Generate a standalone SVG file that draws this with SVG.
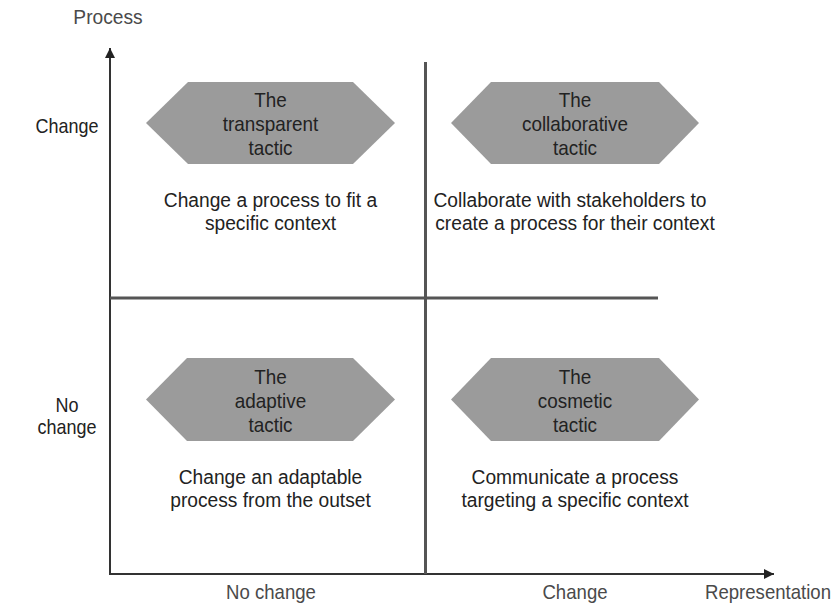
<svg xmlns="http://www.w3.org/2000/svg" width="833" height="604" viewBox="0 0 833 604">
<defs>
<style>
text{font-family:"Liberation Sans",Arial,sans-serif;text-anchor:middle;fill:#222}
.hex{fill:#9b9b9b;stroke:none}
.ht{font-size:21px}
.dt{font-size:20px}
.lab{font-size:20px}
.ax{font-size:20px;fill:#4a4a4a}
.axis{stroke:#333;stroke-width:2;fill:none}
.div{stroke:#555;stroke-width:3;fill:none}
</style>
<marker id="ah" viewBox="0 0 10 10" refX="10" refY="5" markerWidth="16" markerHeight="10" markerUnits="userSpaceOnUse" orient="auto">
<path d="M0,0 L10,5 L0,10 z" fill="#222"/>
</marker>
</defs>
<rect width="833" height="604" fill="#fff"/>
<g id="connectors">
<line class="axis" x1="110" y1="575" x2="110" y2="48" marker-end="url(#ah)"/>
<line class="axis" x1="109" y1="574" x2="774" y2="574" marker-end="url(#ah)"/>
<line class="div" x1="425.5" y1="62" x2="425.5" y2="574"/>
<line class="div" x1="110" y1="298" x2="658" y2="298"/>
</g>
<g id="axis-labels">
<text class="ax" transform="translate(108,24) scale(0.96,1)">Process</text>
<text class="lab" transform="translate(67,133) scale(0.9,1)">Change</text>
<text class="lab" transform="translate(67,412) scale(0.9,1)">No</text>
<text class="lab" transform="translate(67,434) scale(0.9,1)">change</text>
<text class="ax" transform="translate(271,599) scale(0.93,1)">No change</text>
<text class="ax" transform="translate(575,599) scale(0.93,1)">Change</text>
<text class="ax" transform="translate(768,599) scale(0.93,1)">Representation</text>
</g>
<g id="transparent">
<polygon class="hex" points="146,123 188,82 353,82 395,123 353,164 188,164"/>
<text class="ht" transform="translate(270.5,107) scale(0.9,1)">The</text>
<text class="ht" transform="translate(270.5,131) scale(0.9,1)">transparent</text>
<text class="ht" transform="translate(270.5,155) scale(0.9,1)">tactic</text>
<text class="dt" transform="translate(270.5,207) scale(0.96,1)">Change a process to fit a</text>
<text class="dt" transform="translate(270.5,230) scale(0.96,1)">specific context</text>
</g>
<g id="collaborative">
<polygon class="hex" points="451,123 491,82 659,82 699,123 659,164 491,164"/>
<text class="ht" transform="translate(575,107) scale(0.9,1)">The</text>
<text class="ht" transform="translate(575,131) scale(0.9,1)">collaborative</text>
<text class="ht" transform="translate(575,155) scale(0.9,1)">tactic</text>
<text class="dt" transform="translate(570,207) scale(0.96,1)">Collaborate with stakeholders to</text>
<text class="dt" transform="translate(575,230) scale(0.96,1)">create a process for their context</text>
</g>
<g id="adaptive">
<polygon class="hex" points="146,399.5 187,358 353,358 395,399.5 353,441 187,441"/>
<text class="ht" transform="translate(270.5,383.5) scale(0.9,1)">The</text>
<text class="ht" transform="translate(270.5,407.5) scale(0.9,1)">adaptive</text>
<text class="ht" transform="translate(270.5,431.5) scale(0.9,1)">tactic</text>
<text class="dt" transform="translate(270.5,484) scale(0.96,1)">Change an adaptable</text>
<text class="dt" transform="translate(270.5,507) scale(0.96,1)">process from the outset</text>
</g>
<g id="cosmetic">
<polygon class="hex" points="451,399.5 491,358 659,358 699,399.5 659,441 491,441"/>
<text class="ht" transform="translate(575,383.5) scale(0.9,1)">The</text>
<text class="ht" transform="translate(575,407.5) scale(0.9,1)">cosmetic</text>
<text class="ht" transform="translate(575,431.5) scale(0.9,1)">tactic</text>
<text class="dt" transform="translate(575,484) scale(0.96,1)">Communicate a process</text>
<text class="dt" transform="translate(575,507) scale(0.96,1)">targeting a specific context</text>
</g>
</svg>
